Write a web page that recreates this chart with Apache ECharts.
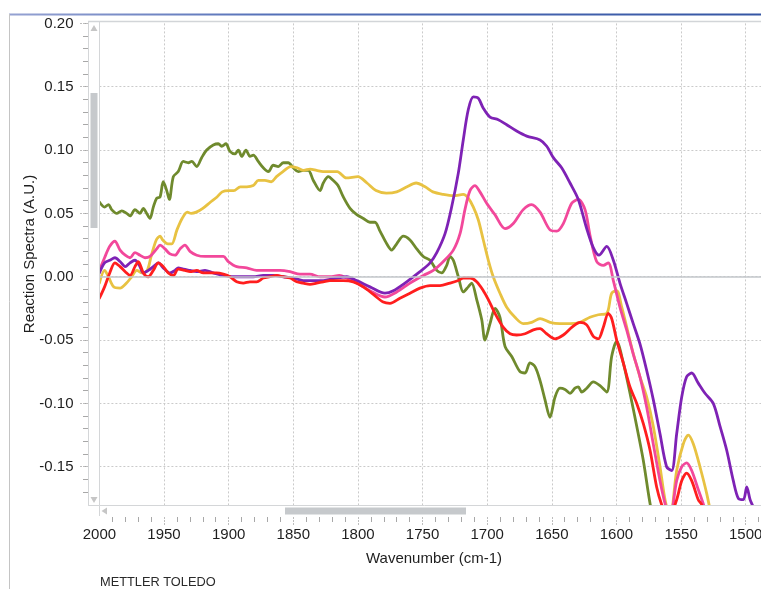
<!DOCTYPE html>
<html>
<head>
<meta charset="utf-8">
<script src="https://cdn.jsdelivr.net/npm/echarts@6/dist/echarts.min.js"></script>
<style>
  html, body { margin: 0; padding: 0; background: #ffffff; }
  #chart { width: 761px; height: 589px; }
</style>
</head>
<body>
<div id="chart"></div>
<script>
// Reaction spectra: [wavenumber (cm-1), absorbance (A.U.)]
const oliveSpectrum = [
  [2000,0.059],[1996,0.055],[1993,0.057],[1990.5,0.053],[1986.6,0.050],[1982.7,0.052],[1978.9,0.050],[1976.3,0.048],
  [1972.5,0.053],[1968.6,0.050],[1966,0.054],[1963.4,0.050],[1960.9,0.046],[1958.3,0.055],[1955.7,0.062],[1953.1,0.063],
  [1950.6,0.075],[1947.9,0.068],[1945.9,0.061],[1942.8,0.079],[1939,0.083],[1935.1,0.091],[1931.2,0.090],[1928.6,0.091],
  [1924.7,0.087],[1920.9,0.094],[1917,0.100],[1911.9,0.104],[1908,0.105],[1905.4,0.103],[1902.1,0.105],[1899,0.099],
  [1895.1,0.097],[1892.5,0.100],[1889.9,0.095],[1886.6,0.100],[1883.5,0.095],[1880.9,0.096],[1877.1,0.091],[1873.2,0.086],
  [1869.3,0.083],[1865.5,0.088],[1861.6,0.087],[1857.7,0.090],[1853.9,0.090],[1850,0.086],[1846.1,0.083],[1842.3,0.084],
  [1838.4,0.084],[1834.5,0.076],[1829.3,0.068],[1826.8,0.074],[1822.9,0.079],[1819,0.076],[1815.4,0.072],[1811.3,0.063],
  [1806.1,0.054],[1800.9,0.049],[1795.8,0.046],[1790.7,0.043],[1786.8,0.043],[1782.9,0.036],[1777.7,0.026],[1773.9,0.021],
  [1770,0.026],[1764.9,0.032],[1759.7,0.029],[1754.5,0.022],[1749.4,0.016],[1744.2,0.013],[1739,0.005],[1735.2,0.003],
  [1731.3,0.009],[1728.8,0.016],[1726.2,0.013],[1722.3,0.000],[1718.5,-0.012],[1714.6,-0.008],[1712,-0.005],[1708.1,-0.018],
  [1704.2,-0.034],[1701.7,-0.050],[1697.8,-0.037],[1693.9,-0.025],[1690.1,-0.032],[1686.2,-0.055],[1681,-0.063],[1674.6,-0.075],
  [1670.7,-0.076],[1666.9,-0.068],[1663,-0.071],[1659.1,-0.082],[1655.3,-0.097],[1651.4,-0.111],[1647.5,-0.095],[1643.7,-0.088],
  [1639.8,-0.089],[1635.9,-0.092],[1632.1,-0.088],[1629.5,-0.087],[1626.9,-0.091],[1623,-0.088],[1617.9,-0.083],[1612.7,-0.086],
  [1607.5,-0.091],[1603.7,-0.063],[1599.8,-0.051],[1594.7,-0.068],[1589.5,-0.092],[1584.3,-0.118],[1579.2,-0.145],[1574,-0.179],
  [1568,-0.210]
];

const yellowSpectrum = [
  [2000,-0.005],[1996,0.005],[1993,0.000],[1989,-0.008],[1984,-0.009],[1979,-0.005],[1975,0.000],[1971,0.005],
  [1967,0.003],[1963,0.005],[1960,0.016],[1956,0.029],[1953,0.032],[1951,0.029],[1947,0.026],[1944,0.026],
  [1940,0.037],[1936,0.046],[1932,0.051],[1929,0.050],[1925,0.051],[1920,0.054],[1914,0.059],[1909,0.063],
  [1905,0.067],[1900,0.068],[1896,0.068],[1891,0.071],[1886,0.071],[1881,0.072],[1877,0.076],[1872,0.076],
  [1867,0.075],[1863,0.079],[1858,0.083],[1852,0.087],[1847,0.086],[1842,0.084],[1837,0.085],[1832,0.084],
  [1827,0.083],[1822,0.083],[1816,0.083],[1809,0.078],[1800,0.079],[1793,0.074],[1786,0.068],[1778,0.066],
  [1770,0.067],[1762,0.071],[1755,0.074],[1748,0.071],[1742,0.067],[1734,0.065],[1726,0.064],[1718.5,0.065],
  [1714.6,0.062],[1710.7,0.055],[1706.9,0.045],[1703,0.029],[1699.1,0.013],[1695.3,0.000],[1690.1,-0.013],[1684.9,-0.024],
  [1678.5,-0.032],[1672.1,-0.037],[1665.6,-0.036],[1659.1,-0.033],[1651.4,-0.036],[1643.7,-0.037],[1635.9,-0.037],[1628.2,-0.036],
  [1620.5,-0.032],[1614,-0.030],[1607.5,-0.029],[1603.7,-0.013],[1599.8,-0.011],[1595.9,-0.024],[1592,-0.040],[1586.9,-0.061],
  [1581.8,-0.079],[1576.6,-0.095],[1571.5,-0.118],[1566.3,-0.150],[1562.4,-0.176],[1558.5,-0.190],[1553.4,-0.153],[1548.3,-0.132],
  [1544.4,-0.125],[1540.5,-0.132],[1535.4,-0.150],[1530.2,-0.171],[1526,-0.192]
];

const pinkSpectrum = [
  [2000,0.005],[1996,0.015],[1992,0.024],[1988,0.028],[1984,0.021],[1980,0.017],[1976.3,0.015],[1972.5,0.019],
  [1968.6,0.017],[1964.7,0.015],[1960.9,0.016],[1955.7,0.022],[1953.1,0.025],[1949.3,0.022],[1945.4,0.018],[1941.5,0.017],
  [1937.6,0.022],[1933.8,0.025],[1929.9,0.020],[1924.7,0.017],[1918.3,0.016],[1911.9,0.016],[1904.1,0.016],[1900.3,0.012],
  [1893.8,0.008],[1886,0.007],[1878.3,0.005],[1868,0.005],[1860.3,0.005],[1852.5,0.004],[1844.8,0.002],[1837.1,0.002],
  [1829.3,0.000],[1821.6,0.000],[1814.4,0.001],[1808.7,-0.001],[1800.9,-0.005],[1790.7,-0.011],[1779.1,-0.016],[1770,-0.012],
  [1759.7,-0.005],[1749.4,0.001],[1741.7,0.005],[1733.9,0.012],[1726.2,0.021],[1721,0.034],[1717.2,0.053],[1713.3,0.068],
  [1709.5,0.072],[1705.6,0.067],[1700.4,0.058],[1694,0.049],[1686.2,0.038],[1679.8,0.042],[1672.1,0.053],[1665.6,0.057],
  [1659.1,0.051],[1651.4,0.037],[1646.2,0.036],[1641.1,0.042],[1634.6,0.058],[1629.5,0.061],[1624.3,0.053],[1620.5,0.033],
  [1615.3,0.012],[1610.2,0.009],[1606.3,0.011],[1602.4,-0.003],[1597.3,-0.024],[1592.1,-0.042],[1587,-0.061],[1581.8,-0.079],
  [1576.6,-0.103],[1571.5,-0.132],[1566.3,-0.161],[1562.4,-0.179],[1558.6,-0.190],[1553.4,-0.161],[1549.5,-0.150],[1545.7,-0.147],
  [1541.8,-0.153],[1536.7,-0.168],[1532.6,-0.180],[1529,-0.192]
];

const redSpectrum = [
  [2000,-0.017],[1996,-0.008],[1992,0.003],[1988,0.011],[1984,0.008],[1980,0.004],[1976.3,0.001],[1972.5,0.008],
  [1969.9,0.012],[1966,0.003],[1962.2,0.000],[1958.3,0.005],[1954.4,0.011],[1950.6,0.008],[1946.7,0.003],[1942.8,0.001],
  [1939,0.006],[1933.8,0.005],[1929.9,0.004],[1924.7,0.005],[1919.6,0.003],[1914.4,0.003],[1909.3,0.003],[1904.1,0.002],
  [1899,0.000],[1893.8,-0.004],[1888.7,-0.005],[1883.5,-0.004],[1878.3,-0.004],[1873.2,-0.001],[1868,0.000],[1862.8,0.001],
  [1857.7,0.000],[1852.5,-0.001],[1847.4,-0.004],[1842.3,-0.005],[1837.1,-0.006],[1831.9,-0.005],[1826.8,-0.004],[1821.6,-0.003],
  [1811.3,-0.003],[1803.6,-0.004],[1795.8,-0.008],[1788.1,-0.014],[1780.4,-0.020],[1775.2,-0.021],[1767.5,-0.017],[1759.7,-0.013],
  [1752,-0.009],[1744.2,-0.007],[1736.5,-0.007],[1728.8,-0.005],[1722.3,-0.003],[1718.5,-0.001],[1713.3,-0.001],[1708.1,-0.004],
  [1703,-0.011],[1699.1,-0.018],[1693.9,-0.029],[1687.5,-0.040],[1682.3,-0.045],[1677.2,-0.046],[1670.7,-0.045],[1664.3,-0.042],
  [1659.1,-0.041],[1654,-0.045],[1647.5,-0.049],[1641.1,-0.046],[1634.6,-0.040],[1628.2,-0.036],[1623,-0.038],[1617.9,-0.047],
  [1614,-0.049],[1610.2,-0.040],[1606.3,-0.029],[1603.7,-0.033],[1599.8,-0.050],[1594.7,-0.068],[1589.5,-0.087],[1584.3,-0.100],
  [1579.2,-0.116],[1574,-0.137],[1568.9,-0.166],[1565,-0.180],[1560,-0.192],[1553.4,-0.176],[1549.5,-0.161],[1545.7,-0.155],
  [1541.8,-0.161],[1536.7,-0.176],[1534,-0.180],[1530.6,-0.192]
];

const purpleSpectrum = [
  [2000,0.003],[1996,0.011],[1992,0.013],[1988,0.015],[1984,0.012],[1980,0.008],[1976.3,0.011],[1972.5,0.013],
  [1968.6,0.008],[1966,0.003],[1962.2,0.005],[1958.3,0.008],[1954.4,0.011],[1950.6,0.007],[1945.4,0.003],[1941.5,0.005],
  [1939,0.007],[1935.1,0.006],[1929.9,0.005],[1924.7,0.004],[1918.3,0.005],[1911.9,0.003],[1904.1,0.001],[1896.4,0.000],
  [1888.7,0.000],[1880.9,0.000],[1873.2,0.001],[1865.5,0.001],[1857.7,0.000],[1850,-0.001],[1842.3,-0.003],[1834.5,-0.003],
  [1826.8,-0.003],[1821.6,-0.002],[1808.7,0.000],[1800.9,-0.003],[1790.7,-0.008],[1779.1,-0.013],[1772.6,-0.011],[1762.3,-0.004],
  [1752,0.004],[1744.2,0.011],[1739,0.019],[1732.6,0.034],[1727.5,0.055],[1722.3,0.082],[1718.5,0.108],[1714.6,0.132],
  [1710.7,0.142],[1706.9,0.141],[1703,0.133],[1697.8,0.126],[1691.4,0.124],[1684.9,0.120],[1677.2,0.115],[1669.4,0.111],
  [1659.1,0.108],[1653.9,0.103],[1648.8,0.094],[1642.4,0.086],[1635.9,0.074],[1629.5,0.061],[1623,0.038],[1617.9,0.023],
  [1613.5,0.017],[1607.5,0.024],[1602.4,0.013],[1597.3,-0.005],[1592.1,-0.021],[1587,-0.037],[1581.8,-0.053],[1576.6,-0.074],
  [1571.5,-0.097],[1566.3,-0.124],[1561.2,-0.150],[1557.3,-0.153],[1553.4,-0.124],[1549.5,-0.095],[1545.7,-0.079],[1541.8,-0.076],
  [1536.7,-0.084],[1531.5,-0.092],[1525.1,-0.100],[1519.9,-0.118],[1514.7,-0.137],[1509.6,-0.161],[1505.7,-0.175],[1501.8,-0.176],
  [1499.2,-0.166],[1496.6,-0.176],[1494.1,-0.182],[1490,-0.196]
];

const xTickLabels = ['2000', '1950', '1900', '1850', '1800', '1750', '1700', '1650', '1600', '1550', '1500'];
const yTickLabels = ['0.20', '0.15', '0.10', '0.05', '0.00', '-0.05', '-0.10', '-0.15'];

const seriesColors = {
  olive: '#6f8a2d',
  yellow: '#e8c242',
  pink: '#f2489b',
  red: '#ff1e1e',
  purple: '#7e22b5'
};

const FONT = '"Liberation Sans", Arial, sans-serif';
const TEXT_COLOR = '#1e1e1e';

// Plot frame geometry
const plotLeft = 99.4;
const plotTop = 23.4;
const pxPerWn = 1.2926;     // pixels per cm-1
const pxPerUnit = 1266.7;   // pixels per A.U.
const wnMin = 1450, wnMax = 2000;
const absMin = -0.2, absMax = 0.2;
const plotWidth = (wnMax - wnMin) * pxPerWn;
const plotHeight = (absMax - absMin) * pxPerUnit;
const tickRowY = 517;        // top of the wavenumber tick row
const scrollColLeft = 88;    // left edge of the vertical scroll column

const gridLine = { color: '#cacaca', width: 1, type: [2, 2] };

const chart = echarts.init(document.getElementById('chart'), null, { renderer: 'canvas' });

function lineSeries(name, data, color) {
  return {
    name: name,
    type: 'line',
    xAxisIndex: 0,
    yAxisIndex: 0,
    data: data,
    symbol: 'none',
    showSymbol: false,
    smooth: 0.3,
    clip: true,
    lineStyle: { width: 2.8, color: color, join: 'round', cap: 'round' },
    itemStyle: { color: color },
    emphasis: { disabled: true }
  };
}

const series = [
  lineSeries('olive', oliveSpectrum, seriesColors.olive),
  lineSeries('yellow', yellowSpectrum, seriesColors.yellow),
  lineSeries('pink', pinkSpectrum, seriesColors.pink),
  lineSeries('purple', purpleSpectrum, seriesColors.purple),
  lineSeries('red', redSpectrum, seriesColors.red)
];
// solid baseline at zero absorbance
series[0].markLine = {
  silent: true,
  symbol: ['none', 'none'],
  label: { show: false },
  lineStyle: { color: '#c3c7cb', type: 'solid', width: 1.5 },
  data: [{ yAxis: 0 }]
};

const option = {
  animation: false,
  backgroundColor: '#ffffff',
  grid: [
    // data area
    { left: plotLeft, top: plotTop, width: plotWidth, height: plotHeight, outerBoundsMode: 'none', containLabel: false },
    // minor absorbance ticks (0.01 steps)
    { left: scrollColLeft, top: plotTop, width: 10, height: (0.2 + 0.17) * pxPerUnit, outerBoundsMode: 'none', containLabel: false },
    // major absorbance ticks and labels
    { left: scrollColLeft, top: plotTop, width: 10, height: (0.2 + 0.15) * pxPerUnit, outerBoundsMode: 'none', containLabel: false },
    // wavenumber ticks and labels
    { left: plotLeft, top: tickRowY - 17, width: plotWidth, height: 17, outerBoundsMode: 'none', containLabel: false }
  ],
  xAxis: [
    {
      gridIndex: 0, type: 'value', min: wnMin, max: wnMax, interval: 50, inverse: true,
      axisLine: { show: false, onZero: false }, axisTick: { show: false }, axisLabel: { show: false },
      splitLine: { show: true, lineStyle: gridLine }
    },
    { gridIndex: 1, type: 'value', show: false },
    { gridIndex: 2, type: 'value', show: false },
    {
      gridIndex: 3, type: 'value', min: wnMin, max: wnMax, interval: 50, inverse: true, z: 110,
      axisLine: { show: false, onZero: false },
      axisTick: { show: true, length: 8, lineStyle: { color: '#bdbdbd', width: 1, type: [2, 1] } },
      minorTick: { show: true, splitNumber: 5, length: 5, lineStyle: { color: '#a8a8a8', width: 1 } },
      axisLabel: {
        fontSize: 15, fontFamily: FONT, color: TEXT_COLOR, margin: 10,
        formatter: v => (xTickLabels.indexOf(String(Math.round(v))) >= 0 ? String(Math.round(v)) : '')
      },
      splitLine: { show: false }
    }
  ],
  yAxis: [
    {
      gridIndex: 0, type: 'value', min: absMin, max: absMax, interval: 0.05,
      axisLine: { show: false }, axisTick: { show: false }, axisLabel: { show: false },
      splitLine: { show: true, showMinLine: false, showMaxLine: false, lineStyle: gridLine }
    },
    {
      gridIndex: 1, type: 'value', min: -0.17, max: 0.2, interval: 0.01,
      axisLine: { show: false }, axisLabel: { show: false }, splitLine: { show: false },
      axisTick: { show: true, length: 5, lineStyle: { color: '#a8a8a8', width: 1 } }
    },
    {
      gridIndex: 2, type: 'value', min: -0.15, max: 0.2, interval: 0.05,
      axisLine: { show: false }, splitLine: { show: false },
      axisTick: { show: true, length: 8, lineStyle: { color: '#bdbdbd', width: 1, type: [2, 1] } },
      axisLabel: {
        fontSize: 15, fontFamily: FONT, color: TEXT_COLOR, margin: 14.5,
        formatter: v => {
          const s = (Math.round(v * 100) / 100).toFixed(2);
          return yTickLabels.indexOf(s) >= 0 ? s : '';
        }
      }
    },
    { gridIndex: 3, type: 'value', show: false }
  ],
  series: series,
  graphic: {
    elements: [
      // hide line tails under the horizontal scroll bar
      { type: 'rect', silent: true, z: 100, shape: { x: scrollColLeft, y: 505, width: 680, height: 28 }, style: { fill: '#ffffff' } },
      // horizontal scroll bar
      { type: 'line', silent: true, z: 101, shape: { x1: scrollColLeft, y1: 505.5, x2: 761, y2: 505.5 }, style: { stroke: '#d4d6d8', lineWidth: 1 } },
      { type: 'line', silent: true, z: 101, shape: { x1: 99.5, y1: 505.5, x2: 99.5, y2: 517 }, style: { stroke: '#d4d6d8', lineWidth: 1 } },
      { type: 'polygon', silent: true, z: 102, shape: { points: [[101.5, 511], [107, 507.5], [107, 514.5]] }, style: { fill: '#c6c6c6' } },
      { type: 'rect', silent: true, z: 102, shape: { x: 285, y: 507.5, width: 181, height: 7 }, style: { fill: '#c6c9cc' } },
      // vertical scroll column
      { type: 'rect', silent: true, z: 101, shape: { x: 88.5, y: 21.5, width: 11, height: 484 }, style: { fill: '#ffffff', stroke: '#d4d6d8', lineWidth: 1 } },
      { type: 'rect', silent: true, z: 102, shape: { x: 90.5, y: 93, width: 7, height: 135 }, style: { fill: '#c6c9cc' } },
      { type: 'polygon', silent: true, z: 102, shape: { points: [[94, 25], [97.5, 31], [90.5, 31]] }, style: { fill: '#c6c6c6' } },
      { type: 'polygon', silent: true, z: 102, shape: { points: [[90.5, 497], [97.5, 497], [94, 503]] }, style: { fill: '#c6c6c6' } },
      // hide the tick under the scroll bar corner
      { type: 'rect', silent: true, z: 120, shape: { x: 97, y: 516, width: 5, height: 10 }, style: { fill: '#ffffff' } },
      // frame lines
      { type: 'line', silent: true, z: 101, shape: { x1: scrollColLeft, y1: 21.5, x2: 761, y2: 21.5 }, style: { stroke: '#d2d5d8', lineWidth: 1.5 } },
      {
        type: 'line', silent: true, z: 101, shape: { x1: 9, y1: 14.5, x2: 761, y2: 14.5 },
        style: {
          lineWidth: 2,
          stroke: new echarts.graphic.LinearGradient(9, 0, 761, 0, [
            { offset: 0, color: '#95a2d2' },
            { offset: 0.35, color: '#5470b8' },
            { offset: 1, color: '#3556a4' }
          ], true)
        }
      },
      { type: 'line', silent: true, z: 101, shape: { x1: 9.5, y1: 14, x2: 9.5, y2: 589 }, style: { stroke: '#c4c4c4', lineWidth: 1 } },
      // titles
      {
        type: 'text', silent: true, z: 101, x: 30, y: 254, rotation: Math.PI / 2,
        style: { text: 'Reaction Spectra (A.U.)', fill: TEXT_COLOR, font: '15px ' + FONT, align: 'center', verticalAlign: 'middle' }
      },
      {
        type: 'text', silent: true, z: 101, x: 434, y: 558.5,
        style: { text: 'Wavenumber (cm-1)', fill: TEXT_COLOR, font: '15px ' + FONT, align: 'center', verticalAlign: 'middle' }
      },
      {
        type: 'text', silent: true, z: 101, x: 100, y: 582.5,
        style: { text: 'METTLER TOLEDO', fill: '#2a2a2a', font: '12.8px ' + FONT, align: 'left', verticalAlign: 'middle' }
      }
    ]
  }
};

chart.setOption(option);
</script>
</body>
</html>
